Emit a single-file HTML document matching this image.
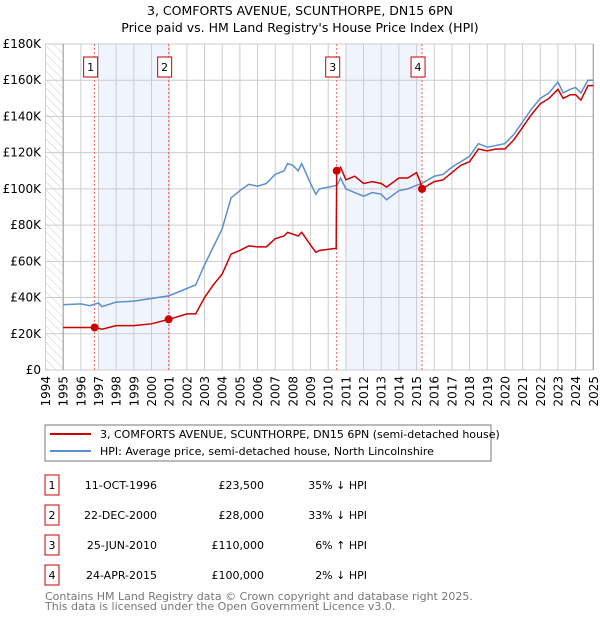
<!DOCTYPE html>
<html><head><meta charset="utf-8"><style>
body{margin:0;background:#fff;}
svg{display:block;font-family:"DejaVu Sans","Liberation Sans",sans-serif;}
</style></head><body>
<svg id="c" width="600" height="620" xmlns="http://www.w3.org/2000/svg">
<text x="300" y="15" text-anchor="middle" font-size="12.5">3, COMFORTS AVENUE, SCUNTHORPE, DN15 6PN</text>
<text x="300" y="32" text-anchor="middle" font-size="12.5">Price paid vs. HM Land Registry's House Price Index (HPI)</text>
<defs><pattern id="hatch" width="6" height="6" patternUnits="userSpaceOnUse" patternTransform="rotate(-45)"><line x1="0" y1="0" x2="0" y2="6" stroke="#ccc" stroke-width="1"/></pattern></defs>
<g id="plot"></g>
<rect x="45" y="425" width="446" height="36" fill="#fff" stroke="#777"/>
<line x1="50" y1="434" x2="91" y2="434" stroke="#cc0000" stroke-width="2"/>
<text x="100" y="438" font-size="11">3, COMFORTS AVENUE, SCUNTHORPE, DN15 6PN (semi-detached house)</text>
<line x1="50" y1="451" x2="91" y2="451" stroke="#5b8fd0" stroke-width="2"/>
<text x="100" y="455" font-size="11">HPI: Average price, semi-detached house, North Lincolnshire</text>
<g id="table" font-size="11"></g>
<text x="45" y="600" font-size="11" fill="#777">Contains HM Land Registry data © Crown copyright and database right 2025.</text>
<text x="45" y="610" font-size="11" fill="#777">This data is licensed under the Open Government Licence v3.0.</text>
</svg>
<script>
const hpiX=[1995,1996,1996.5,1997,1997.2,1998,1999,2000,2001,2002,2002.5,2003,2003.5,2004,2004.5,2005,2005.5,2006,2006.5,2007,2007.5,2007.7,2008,2008.3,2008.5,2009,2009.3,2009.5,2010,2010.5,2010.7,2011,2011.5,2012,2012.5,2013,2013.3,2014,2014.5,2015,2015.3,2016,2016.5,2017,2017.5,2018,2018.5,2019,2019.5,2020,2020.5,2021,2021.5,2022,2022.5,2023,2023.3,2023.7,2024,2024.3,2024.7,2025];
const hpiY=[36,36.5,35.5,37,35,37.5,38,39.5,41,45,47,58,68,78,95,99,102.5,101.5,103,108,110,114,113,110,114,103,97,100,101,102,106,100,98,96,98,97,94,99,100,102,103,107,108,112,115,118,125,123,124,125,130,137,144,150,153,159,153,155,156,153,160,160];
const ppX=[1995,1996.8,1997.2,1998,1999,2000,2001,2002,2002.5,2003,2003.5,2004,2004.5,2005,2005.5,2006,2006.5,2007,2007.5,2007.7,2008,2008.3,2008.5,2009,2009.3,2009.5,2010.3,2010.45,2010.48,2010.7,2011,2011.5,2012,2012.5,2013,2013.3,2014,2014.5,2015,2015.2,2015.3,2016,2016.5,2017,2017.5,2018,2018.5,2019,2019.5,2020,2020.5,2021,2021.5,2022,2022.5,2023,2023.3,2023.7,2024,2024.3,2024.7,2025];
const ppY=[23.5,23.5,22.5,24.5,24.5,25.5,28,31,31,40,47,53,64,66,68.5,68,68,72.5,74,76,75,74,76,69,65,66,67,67,110,112,105,107,103,104,103,101,106,106,109,104,100,104,105,109,113,115,122,121,122,122,127,134,141,147,150,155,150,152,152,149,157,157];
const saleX=[1996.78,2000.97,2010.48,2015.31];
const saleY=[23.5,28,110,100];
const saleLabels=["1","2","3","4"];
const saleDates=["11-OCT-1996","22-DEC-2000","25-JUN-2010","24-APR-2015"];
const salePrices=["£23,500","£28,000","£110,000","£100,000"];
const saleHpi=["35% ↓ HPI","33% ↓ HPI","6% ↑ HPI","2% ↓ HPI"];
const yTicks=[0,20,40,60,80,100,120,140,160,180];
const years=[];for(let y=1994;y<=2025;y++)years.push(y);
const NS="http://www.w3.org/2000/svg";
const X=v=>45.5+(v-1994)*17.67, Y=v=>370-v*326/180;
const g=document.getElementById('plot');
function mk(t,a,p){const e=document.createElementNS(NS,t);for(const k in a)e.setAttribute(k,a[k]);(p||g).appendChild(e);return e;}
let e;
e=mk('rect',{x:X(1994),y:44,width:X(1995)-X(1994),height:326,fill:'url(#hatch)'});


e=mk('rect',{x:X(1997),y:44,width:X(saleX[1])-X(1997),height:326,fill:'#f0f4fd'});


e=mk('rect',{x:X(2011),y:44,width:X(saleX[3])-X(2011),height:326,fill:'#f0f4fd'});


yTicks.forEach(t=>{
 e=mk('line',{x1:45,x2:X(2025),y1:Y(t),y2:Y(t),stroke:'#ccc'});
 
 
 e=mk('text',{x:41,y:Y(t)+4,'text-anchor':'end','font-size':12});e.textContent=t?'£'+t+'K':'£0';
 
 
});
years.forEach(y=>{
 e=mk('line',{x1:X(y),x2:X(y),y1:44,y2:370,stroke:'#ccc'});
 
 
 e=mk('text',{x:0,y:0,'text-anchor':'end','font-size':12,transform:`translate(${X(y)+4.5},376) rotate(-90)`});e.textContent=y;
 
 
});
e=mk('line',{x1:X(1995),x2:X(1995),y1:44,y2:370,stroke:'#999'});


e=mk('line',{x1:X(2025),x2:X(2025),y1:44,y2:370,stroke:'#999'});


saleX.forEach((s,i)=>{
 e=mk('line',{x1:X(s),x2:X(s),y1:44,y2:370,stroke:'#f06060','stroke-dasharray':'2,2'});
 
 
 e=mk('rect',{x:X(s)-11,y:57,width:14,height:20,fill:'#fff',stroke:'#cc0000'});
 
 
 e=mk('text',{x:X(s)-4,y:71,'text-anchor':'middle','font-size':11});e.textContent=saleLabels[i];
 
 
});
e=mk('polyline',{points:hpiX.map((x,i)=>X(x)+','+Y(hpiY[i])).join(' '),fill:'none',stroke:'#5b8fd0','stroke-width':1.5});


e=mk('polyline',{points:ppX.map((x,i)=>X(x)+','+Y(ppY[i])).join(' '),fill:'none',stroke:'#cc0000','stroke-width':1.5});


saleX.forEach((s,i)=>{
 e=mk('circle',{cx:X(s),cy:Y(saleY[i]),r:4,fill:'#cc0000'});
 
 
});
const tb=document.getElementById('table');
saleLabels.forEach((l,i)=>{
 const cy=485+i*30;
 e=mk('rect',{x:45,y:cy-10,width:14,height:20,fill:'#fff',stroke:'#cc0000'},tb);
 
 
 e=mk('text',{x:52,y:cy+4,'text-anchor':'middle'},tb);e.textContent=l;
 
 
 e=mk('text',{x:157,y:cy+4,'text-anchor':'end'},tb);e.textContent=saleDates[i];
 
 
 e=mk('text',{x:264,y:cy+4,'text-anchor':'end'},tb);e.textContent=salePrices[i];
 
 
 e=mk('text',{x:367,y:cy+4,'text-anchor':'end'},tb);e.textContent=saleHpi[i];
 
 
});
</script>
</body></html>
